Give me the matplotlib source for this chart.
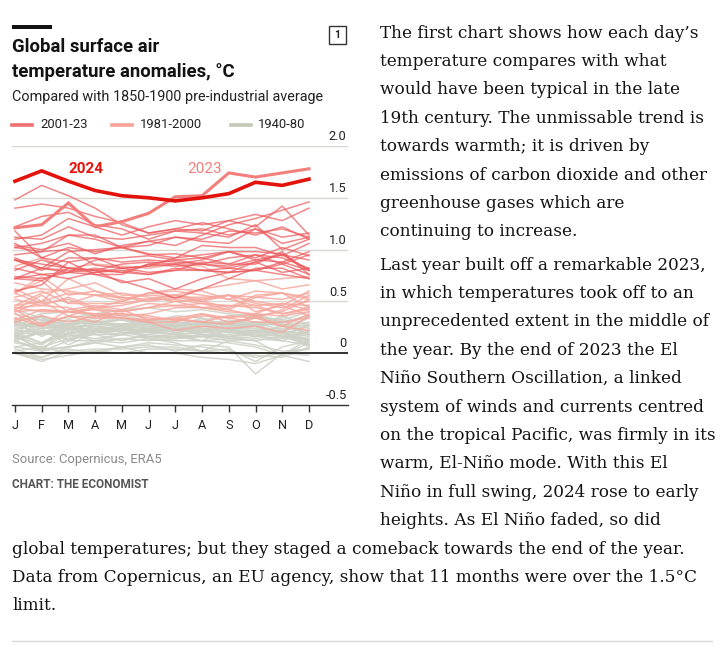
import matplotlib
matplotlib.use("Agg")
import matplotlib.pyplot as plt
from matplotlib.lines import Line2D
from matplotlib.patches import Rectangle

W, H = 724, 649

MONTHS = ["J", "F", "M", "A", "M", "J", "J", "A", "S", "O", "N", "D"]
Y_TICKS = [-0.5, 0, 0.5, 1.0, 1.5, 2.0]
Y_TICK_LABELS = ["-0.5", "0", "0.5", "1.0", "1.5", "2.0"]

# monthly anomalies vs 1850-1900 (estimates)
GREY_1940_80 = [
    [0.22, 0.30, 0.32, 0.30, 0.28, 0.32, 0.30, 0.28, 0.30, 0.34, 0.32, 0.40],
    [0.30, 0.26, 0.28, 0.34, 0.32, 0.30, 0.36, 0.34, 0.24, 0.38, 0.30, 0.28],
    [0.30, 0.16, 0.28, 0.30, 0.32, 0.28, 0.28, 0.26, 0.28, 0.30, 0.26, 0.30],
    [0.16, 0.30, 0.18, 0.26, 0.22, 0.20, 0.24, 0.20, 0.26, 0.34, 0.30, 0.36],
    [0.38, 0.32, 0.34, 0.38, 0.42, 0.44, 0.40, 0.42, 0.38, 0.36, 0.28, 0.24],
    [0.28, 0.18, 0.26, 0.32, 0.26, 0.24, 0.26, 0.34, 0.26, 0.28, 0.20, 0.06],
    [0.24, 0.28, 0.22, 0.28, 0.20, 0.18, 0.24, 0.20, 0.22, 0.16, 0.22, 0.08],
    [0.20, 0.10, 0.24, 0.28, 0.28, 0.26, 0.24, 0.22, 0.22, 0.30, 0.28, 0.18],
    [0.32, 0.20, 0.14, 0.22, 0.24, 0.20, 0.18, 0.20, 0.18, 0.22, 0.16, 0.12],
    [0.20, 0.18, 0.22, 0.24, 0.20, 0.16, 0.16, 0.18, 0.16, 0.18, 0.16, 0.10],
    [0.06, 0.10, 0.18, 0.14, 0.18, 0.14, 0.16, 0.12, 0.10, 0.06, -0.02, 0.14],
    [0.12, 0.02, 0.12, 0.22, 0.24, 0.26, 0.26, 0.28, 0.24, 0.24, 0.18, 0.26],
    [0.28, 0.26, 0.18, 0.24, 0.22, 0.22, 0.24, 0.26, 0.24, 0.18, 0.12, 0.22],
    [0.20, 0.24, 0.28, 0.30, 0.24, 0.28, 0.22, 0.24, 0.20, 0.22, 0.16, 0.22],
    [0.12, 0.22, 0.12, 0.12, 0.10, 0.14, 0.12, 0.12, 0.14, 0.16, 0.20, 0.08],
    [0.18, 0.02, 0.06, 0.10, 0.14, 0.16, 0.14, 0.18, 0.14, 0.12, -0.02, 0.10],
    [0.00, -0.08, 0.02, 0.04, 0.04, 0.06, 0.06, 0.02, 0.00, -0.02, -0.04, 0.06],
    [0.12, 0.20, 0.16, 0.22, 0.26, 0.30, 0.26, 0.30, 0.28, 0.26, 0.30, 0.36],
    [0.42, 0.34, 0.26, 0.22, 0.26, 0.20, 0.24, 0.18, 0.16, 0.20, 0.22, 0.18],
    [0.28, 0.26, 0.32, 0.28, 0.26, 0.28, 0.26, 0.22, 0.22, 0.16, 0.14, 0.22],
    [0.16, 0.24, 0.08, 0.20, 0.22, 0.24, 0.20, 0.24, 0.24, 0.26, 0.16, 0.28],
    [0.26, 0.36, 0.28, 0.30, 0.28, 0.30, 0.22, 0.24, 0.20, 0.20, 0.22, 0.16],
    [0.26, 0.30, 0.24, 0.22, 0.18, 0.26, 0.20, 0.22, 0.24, 0.22, 0.24, 0.20],
    [0.18, 0.36, 0.12, 0.20, 0.22, 0.22, 0.28, 0.32, 0.36, 0.36, 0.32, 0.18],
    [0.10, 0.06, 0.00, 0.02, 0.06, 0.00, 0.00, -0.04, -0.06, -0.10, -0.02, -0.08],
    [0.04, -0.04, 0.04, 0.00, 0.06, 0.08, 0.02, 0.08, 0.06, -0.20, 0.00, 0.04],
    [0.14, 0.20, 0.18, 0.12, 0.18, 0.22, 0.24, 0.18, 0.16, 0.12, 0.16, 0.14],
    [0.16, 0.08, 0.24, 0.20, 0.26, 0.16, 0.18, 0.20, 0.22, 0.28, 0.16, 0.18],
    [0.06, 0.02, 0.28, 0.18, 0.12, 0.18, 0.16, 0.16, 0.16, 0.22, 0.20, 0.12],
    [0.18, 0.10, 0.24, 0.30, 0.32, 0.28, 0.28, 0.28, 0.28, 0.26, 0.30, 0.36],
    [0.30, 0.36, 0.20, 0.26, 0.24, 0.22, 0.18, 0.16, 0.22, 0.20, 0.20, 0.14],
    [0.12, 0.04, 0.06, 0.12, 0.14, 0.12, 0.14, 0.16, 0.12, 0.14, 0.12, 0.08],
    [0.02, 0.06, 0.14, 0.18, 0.18, 0.24, 0.22, 0.28, 0.24, 0.30, 0.22, 0.34],
    [0.30, 0.38, 0.40, 0.36, 0.34, 0.32, 0.30, 0.24, 0.20, 0.22, 0.16, 0.08],
    [0.00, -0.04, 0.06, 0.10, 0.06, 0.10, 0.08, 0.06, 0.02, -0.04, 0.00, -0.02],
    [0.22, 0.20, 0.24, 0.20, 0.24, 0.14, 0.10, 0.02, 0.12, 0.08, 0.02, 0.04],
    [0.00, -0.06, -0.02, 0.02, 0.00, 0.04, 0.04, 0.02, 0.04, -0.08, 0.06, 0.12],
    [0.14, 0.20, 0.28, 0.30, 0.32, 0.30, 0.28, 0.22, 0.16, 0.18, 0.26, 0.20],
    [0.28, 0.24, 0.26, 0.26, 0.22, 0.22, 0.18, 0.12, 0.24, 0.16, 0.28, 0.26],
    [0.16, 0.04, 0.20, 0.20, 0.18, 0.22, 0.18, 0.28, 0.32, 0.28, 0.34, 0.46],
    [0.34, 0.32, 0.28, 0.38, 0.36, 0.32, 0.32, 0.30, 0.30, 0.26, 0.36, 0.26],
]

PINK_1981_2000 = [
    [0.58, 0.48, 0.52, 0.42, 0.40, 0.44, 0.46, 0.48, 0.42, 0.36, 0.40, 0.52],
    [0.30, 0.36, 0.30, 0.36, 0.38, 0.34, 0.32, 0.30, 0.36, 0.34, 0.42, 0.56],
    [0.68, 0.62, 0.60, 0.56, 0.58, 0.54, 0.50, 0.52, 0.56, 0.40, 0.46, 0.36],
    [0.42, 0.28, 0.36, 0.30, 0.42, 0.32, 0.34, 0.38, 0.30, 0.34, 0.26, 0.22],
    [0.34, 0.26, 0.36, 0.34, 0.34, 0.30, 0.30, 0.38, 0.34, 0.30, 0.30, 0.34],
    [0.40, 0.42, 0.40, 0.38, 0.38, 0.36, 0.32, 0.36, 0.34, 0.38, 0.36, 0.40],
    [0.40, 0.50, 0.36, 0.44, 0.46, 0.52, 0.56, 0.50, 0.56, 0.50, 0.46, 0.60],
    [0.62, 0.50, 0.58, 0.56, 0.54, 0.52, 0.52, 0.48, 0.46, 0.44, 0.38, 0.42],
    [0.32, 0.42, 0.40, 0.42, 0.36, 0.38, 0.44, 0.44, 0.46, 0.46, 0.38, 0.44],
    [0.46, 0.50, 0.72, 0.60, 0.54, 0.50, 0.54, 0.50, 0.44, 0.56, 0.58, 0.54],
    [0.54, 0.60, 0.48, 0.56, 0.50, 0.58, 0.60, 0.56, 0.52, 0.46, 0.48, 0.46],
    [0.52, 0.46, 0.44, 0.36, 0.34, 0.30, 0.22, 0.26, 0.24, 0.26, 0.20, 0.36],
    [0.44, 0.40, 0.40, 0.38, 0.34, 0.32, 0.34, 0.30, 0.28, 0.36, 0.26, 0.38],
    [0.38, 0.26, 0.42, 0.46, 0.42, 0.48, 0.46, 0.44, 0.42, 0.54, 0.58, 0.52],
    [0.58, 0.74, 0.56, 0.60, 0.52, 0.58, 0.62, 0.60, 0.52, 0.60, 0.58, 0.44],
    [0.42, 0.56, 0.40, 0.44, 0.40, 0.44, 0.50, 0.44, 0.40, 0.38, 0.48, 0.42],
    [0.44, 0.46, 0.54, 0.44, 0.50, 0.58, 0.56, 0.62, 0.66, 0.70, 0.72, 0.74],
    [0.84, 0.92, 0.82, 0.86, 0.84, 0.82, 0.86, 0.84, 0.72, 0.70, 0.62, 0.66],
    [0.58, 0.70, 0.48, 0.48, 0.48, 0.52, 0.56, 0.52, 0.56, 0.54, 0.52, 0.58],
    [0.46, 0.58, 0.62, 0.68, 0.56, 0.56, 0.54, 0.54, 0.56, 0.48, 0.44, 0.50],
]

RED_2001_22 = [
    [0.72, 0.70, 0.82, 0.80, 0.78, 0.76, 0.82, 0.80, 0.78, 0.80, 0.88, 0.80],
    [0.95, 0.98, 1.00, 0.85, 0.82, 0.84, 0.86, 0.80, 0.82, 0.80, 0.86, 0.76],
    [0.90, 0.82, 0.80, 0.78, 0.80, 0.76, 0.80, 0.88, 0.86, 0.95, 0.86, 0.95],
    [0.80, 0.90, 0.82, 0.80, 0.68, 0.72, 0.62, 0.72, 0.78, 0.88, 0.95, 0.80],
    [0.90, 0.80, 0.92, 0.92, 0.88, 0.90, 0.88, 0.86, 0.92, 0.95, 0.92, 0.82],
    [0.72, 0.82, 0.78, 0.76, 0.76, 0.86, 0.84, 0.86, 0.84, 0.90, 0.88, 0.98],
    [1.18, 0.92, 0.88, 0.92, 0.82, 0.78, 0.80, 0.80, 0.78, 0.80, 0.76, 0.72],
    [0.60, 0.66, 0.88, 0.76, 0.70, 0.62, 0.53, 0.62, 0.72, 0.82, 0.82, 0.72],
    [0.82, 0.76, 0.72, 0.78, 0.82, 0.84, 0.92, 0.95, 0.98, 0.90, 0.95, 0.90],
    [1.02, 1.06, 1.14, 1.10, 1.02, 0.95, 0.96, 0.92, 0.86, 0.86, 0.98, 0.76],
    [0.74, 0.72, 0.78, 0.82, 0.78, 0.86, 0.90, 0.86, 0.82, 0.88, 0.78, 0.82],
    [0.72, 0.76, 0.78, 0.90, 0.92, 0.94, 0.90, 0.92, 0.98, 0.98, 0.96, 0.80],
    [0.90, 0.86, 0.82, 0.80, 0.86, 0.88, 0.86, 0.90, 0.98, 0.92, 1.02, 0.94],
    [0.92, 0.82, 0.98, 1.00, 1.02, 0.96, 0.92, 1.04, 1.02, 1.02, 0.94, 1.06],
    [1.04, 1.00, 1.06, 0.96, 1.04, 1.08, 1.04, 1.14, 1.24, 1.30, 1.38, 1.46],
    [1.48, 1.62, 1.52, 1.40, 1.24, 1.16, 1.20, 1.26, 1.20, 1.14, 1.22, 1.10],
    [1.22, 1.32, 1.36, 1.24, 1.20, 1.10, 1.18, 1.20, 1.14, 1.20, 1.12, 1.16],
    [1.02, 0.98, 1.14, 1.14, 1.02, 1.08, 1.12, 1.08, 1.06, 1.20, 1.06, 1.12],
    [1.10, 1.14, 1.30, 1.22, 1.14, 1.22, 1.28, 1.24, 1.28, 1.34, 1.28, 1.40],
    [1.40, 1.44, 1.40, 1.32, 1.26, 1.16, 1.20, 1.18, 1.28, 1.22, 1.42, 1.14],
    [1.06, 0.92, 1.02, 0.98, 1.02, 1.04, 1.12, 1.10, 1.18, 1.16, 1.20, 1.12],
    [1.12, 1.10, 1.22, 1.12, 1.10, 1.14, 1.18, 1.16, 1.12, 1.24, 1.00, 1.10],
]

Y2023 = [1.21, 1.24, 1.45, 1.22, 1.27, 1.35, 1.51, 1.52, 1.74, 1.70, 1.74, 1.78]
Y2024 = [1.66, 1.76, 1.66, 1.57, 1.52, 1.50, 1.47, 1.50, 1.54, 1.65, 1.62, 1.68]

LEGEND_LABELS = ["2001-23", "1981-2000", "1940-80"]

PARA1 = [
    "The first chart shows how each day’s",
    "temperature compares with what",
    "would have been typical in the late",
    "19th century. The unmissable trend is",
    "towards warmth; it is driven by",
    "emissions of carbon dioxide and other",
    "greenhouse gases which are",
    "continuing to increase.",
]
PARA2 = [
    "Last year built off a remarkable 2023,",
    "in which temperatures took off to an",
    "unprecedented extent in the middle of",
    "the year. By the end of 2023 the El",
    "Niño Southern Oscillation, a linked",
    "system of winds and currents centred",
    "on the tropical Pacific, was firmly in its",
    "warm, El-Niño mode. With this El",
    "Niño in full swing, 2024 rose to early",
    "heights. As El Niño faded, so did",
]
PARA2_WIDE = [
    "global temperatures; but they staged a comeback towards the end of the year.",
    "Data from Copernicus, an EU agency, show that 11 months were over the 1.5°C",
    "limit.",
]

# colours
C_RED = "#ec5a5d"
C_PINK = "#f6a89e"
C_GREY = "#cdd1c6"
C_2023 = "#f37f7c"
C_2024 = "#e3120b"

SANS = "Roboto"
SERIF = "DejaVu Serif"
BODY_SIZE = 12.2
plt.rcParams["font.family"] = SANS


def fx(x):
    return x / W


def fy(y):
    return 1 - y / H


fig = plt.figure(figsize=(W / 100, H / 100), dpi=100)
fig.patch.set_facecolor("white")

# chart axes: x 12..348 px, y 146 (2.0) .. 405 (-0.5)
ax = fig.add_axes([fx(12), fy(405), (348 - 12) / W, (405 - 146) / H])
ax.set_xlim(-0.11, 12.46)
ax.set_ylim(-0.5, 2.0)
x = list(range(12))

for row in GREY_1940_80:
    ax.plot(x, row, color=C_GREY, lw=1.1, alpha=0.85, zorder=2)
for row in PINK_1981_2000:
    ax.plot(x, row, color=C_PINK, lw=1.1, alpha=0.85, zorder=3)
for row in RED_2001_22:
    ax.plot(x, row, color=C_RED, lw=1.1, alpha=0.72, zorder=4)
ax.plot(x, Y2023, color=C_2023, lw=2.2, zorder=5, solid_joinstyle="miter")
ax.plot(x, Y2024, color=C_2024, lw=2.6, zorder=6, solid_joinstyle="miter")

ax.text(2.67, 1.78, "2024", color=C_2024, fontsize=11, fontweight="bold",
        ha="center", va="center", zorder=7)
ax.text(7.1, 1.78, "2023", color=C_2023, fontsize=11,
        ha="center", va="center", zorder=7)

# grid lines and y labels
for v, lab in zip(Y_TICKS, Y_TICK_LABELS):
    if v == 0:
        ax.axhline(v, color="#111111", lw=1.2, zorder=8)
    elif v > -0.5:
        ax.axhline(v, color="#d8d8d4", lw=1.0, zorder=1)
    ax.annotate(lab, xy=(1.0, v), xycoords=("axes fraction", "data"),
                xytext=(-1, 2), textcoords="offset points",
                ha="right", va="bottom", fontsize=9.2, color="#222222")

for side in ["top", "right", "left"]:
    ax.spines[side].set_visible(False)
ax.spines["bottom"].set_color("#333333")
ax.spines["bottom"].set_linewidth(1.0)
ax.set_yticks([])
ax.set_xticks(x)
ax.set_xticklabels(MONTHS)
ax.tick_params(axis="x", direction="out", length=5, width=1, color="#333333",
               labelsize=9.2, labelcolor="#222222", pad=5)
ax.set_facecolor("none")

# header block
fig.add_artist(Rectangle((fx(12), fy(29)), 40 / W, 4 / H, transform=fig.transFigure,
                         color="#121212", lw=0))
fig.text(fx(12), fy(47), "Global surface air", fontsize=13.3, fontweight="bold",
         color="#121212", va="center")
fig.text(fx(12), fy(72), "temperature anomalies, °C", fontsize=13.3, fontweight="bold",
         color="#121212", va="center")
fig.text(fx(12), fy(97), "Compared with 1850-1900 pre-industrial average", fontsize=10.4,
         color="#222222", va="center")

fig.add_artist(Rectangle((fx(329), fy(44)), 17 / W, 18 / H, transform=fig.transFigure,
                         facecolor="white", edgecolor="#333333", lw=1.0))
fig.text(fx(337.5), fy(35), "1", fontsize=7.5, fontweight="bold", color="#222222",
         ha="center", va="center")

# legend
leg_pos = [(12, 40), (112, 140), (231, 258)]
leg_cols = ["#f0706f", "#f6a396", "#c3c8b8"]
for (x0, xt), col, lab in zip(leg_pos, leg_cols, LEGEND_LABELS):
    fig.add_artist(Line2D([fx(x0), fx(x0 + 20)], [fy(125), fy(125)],
                          transform=fig.transFigure, color=col, lw=2.6))
    fig.text(fx(xt), fy(125), lab, fontsize=9.4, color="#222222", va="center")

# footer
fig.text(fx(12), fy(459), "Source: Copernicus, ERA5", fontsize=9.4, color="#8a8a8a",
         va="center")
fig.text(fx(12), fy(484), "CHART: THE ECONOMIST", fontsize=8.5, fontweight="bold",
         color="#555555", va="center")

# article text
LINE = 28.4
for i, line in enumerate(PARA1):
    fig.text(fx(380), fy(33 + i * LINE), line, family=SERIF, fontsize=BODY_SIZE,
             color="#121212", va="center")
for i, line in enumerate(PARA2):
    fig.text(fx(380), fy(265 + i * LINE), line, family=SERIF, fontsize=BODY_SIZE,
             color="#121212", va="center")
y0 = 265 + len(PARA2) * LINE
for i, line in enumerate(PARA2_WIDE):
    fig.text(fx(12), fy(y0 + i * LINE), line, family=SERIF, fontsize=BODY_SIZE,
             color="#121212", va="center")

fig.add_artist(Line2D([fx(12), fx(712)], [fy(641), fy(641)], transform=fig.transFigure,
                      color="#d9d9d9", lw=1.0))

fig.savefig("out.png", dpi=100, facecolor="white")
